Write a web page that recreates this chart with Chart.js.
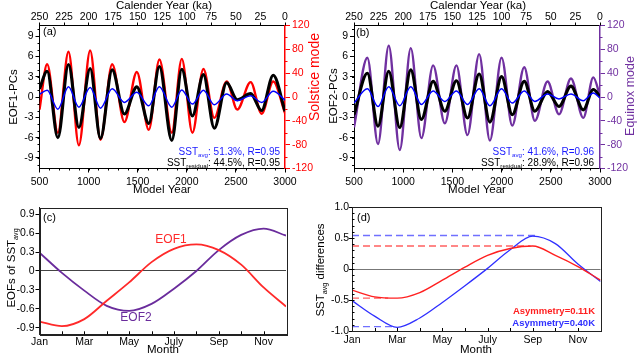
<!DOCTYPE html>
<html><head><meta charset="utf-8">
<script src="https://cdn.jsdelivr.net/npm/chart.js@4.4.1/dist/chart.umd.min.js"></script>
<style>
html,body{margin:0;padding:0;background:#fff;}
#wrap{position:relative;width:638px;height:356px;overflow:hidden;background:#fff;}
canvas{position:absolute;}
</style></head><body>
<div id="wrap">
<canvas id="ca" width="324" height="200" style="left:0;top:0"></canvas>
<canvas id="cb" width="314" height="200" style="left:324px;top:0"></canvas>
<canvas id="cc" width="300" height="156" style="left:0;top:200px"></canvas>
<canvas id="cd" width="338" height="156" style="left:300px;top:200px"></canvas>
</div>
<script>
// ---------- data ----------
// panel (a): model years of turning points, and the values there
const aYears     = [500, 578, 687, 795, 901, 1016, 1121, 1240, 1365, 1491, 1613, 1721, 1847, 1949, 2057, 2169, 2280, 2406, 2514, 2650, 2762, 2880, 3000];
const aSolstice  = [-21, 55, -60, 76, -81, 78, -72, 55, -42, 42, -55, 63, -60, 64, -60, 47, -35, 26, -21, 25, -28, 26, -27];
const aResidual  = [1.2, 3.8, -6.0, 4.8, -4.5, 4.2, -6.1, 4.0, -2.5, 1.5, -3.9, 4.5, -6.4, 4.1, -2.8, 3.3, -4.6, 2.1, -0.4, 0.5, -2.0, 3.2, -2.1];
const aAvg       = [0.4, 1.0, -1.8, 1.5, -1.5, 1.4, -1.65, 1.2, -0.8, 0.7, -1.3, 1.5, -1.5, 1.05, -1.05, 1.0, -1.15, 0.45, -0.55, 0.2, -0.8, 0.85, -0.45];
// panel (b)
const bYears     = [500, 636, 744, 853, 965, 1077, 1185, 1304, 1423, 1541, 1653, 1772, 1881, 2000, 2108, 2230, 2338, 2467, 2583, 2705, 2830, 2932, 3000];
const bEquinox   = [-51, 66, -79, 86, -89, 82, -69, 53, -44, 53, -64, 72, -73, 66, -48, 50, -40, 26, -29, 31, -35, 33, 2];
const bResidual  = [-2.6, 3.5, -4.3, 3.8, -4.5, 4.0, -3.3, 2.3, -2.1, 2.4, -3.1, 3.4, -3.7, 3.0, -2.6, 2.3, -2.1, 0.8, -1.4, 1.6, -1.9, 1.1, 0.1];
const bAvg       = [-0.9, 1.2, -1.4, 1.5, -1.3, 1.5, -1.1, 0.9, -0.65, 0.9, -1.1, 1.2, -1.3, 1.2, -0.9, 0.9, -0.65, 0.45, -0.3, 0.45, -0.55, 0.6, -0.15];
// panels (c) and (d): monthly values
const months = ['Jan','Feb','Mar','Apr','May','Jun','July','Aug','Sep','Oct','Nov','Dec'];
const cEOF1 = [-0.80, -0.87, -0.76, -0.47, -0.18, 0.14, 0.35, 0.42, 0.33, 0.10, -0.26, -0.56];
const cEOF2 = [0.29, -0.03, -0.31, -0.55, -0.63, -0.52, -0.28, 0.00, 0.33, 0.57, 0.67, 0.56];
const dRed  = [-0.34, -0.45, -0.47, -0.38, -0.18, 0.03, 0.22, 0.33, 0.37, 0.22, 0.04, -0.18];
const dBlue = [-0.51, -0.76, -0.94, -0.79, -0.54, -0.27, 0.01, 0.31, 0.53, 0.41, 0.08, -0.20];
const dRedLevels  = [0.37, -0.47];
const dRedEnds    = [8.9, 2.6];
const dBlueLevels = [0.54, -0.93];
const dBlueEnds   = [9.1, 2.9];
// tick values
const pcTicks   = [-9, -6, -3, 0, 3, 6, 9];
const modeTicks = [-120, -80, -40, 0, 40, 80, 120];
const cTicks    = [-0.9, -0.6, -0.3, 0, 0.3, 0.6, 0.9];
const dTicks    = [-1, -0.5, 0, 0.5, 1];

// ---------- helpers ----------
const FONT = '"Liberation Sans", Arial, Helvetica, sans-serif';
Chart.defaults.font.family = FONT;
const TICKFONT = {size: 10.5};
const RED = '#ff0000', PURPLE = '#7030a0', BLUE = '#0000ff';

function drawParts(ctx, it) {
  const size = it.size || 11.5;
  const w = it.bold ? 'bold ' : '';
  const parts = it.parts.map(p => typeof p === 'string' ? {t: p} : Object.assign({}, p));
  let total = 0;
  parts.forEach(p => { p.s = p.sub ? size * 0.62 : size; ctx.font = w + p.s + 'px ' + FONT; p.w = ctx.measureText(p.t).width; total += p.w; });
  ctx.save();
  ctx.translate(it.x, it.y);
  if (it.rot) ctx.rotate(it.rot);
  let x0 = it.align === 'right' ? -total : it.align === 'left' ? 0 : -total / 2;
  ctx.fillStyle = it.color || '#000';
  ctx.textBaseline = 'middle';
  ctx.textAlign = 'left';
  parts.forEach(p => { ctx.font = w + p.s + 'px ' + FONT; ctx.fillText(p.t, x0, p.sub ? size * 0.32 : 0); x0 += p.w; });
  ctx.restore();
}

const decor = {
  id: 'decor',
  afterDraw(chart, args, opts) {
    const ctx = chart.ctx, ca = chart.chartArea;
    ctx.save();
    if (opts.box) {
      ctx.strokeStyle = '#222'; ctx.lineWidth = 1;
      ctx.strokeRect(Math.round(ca.left) + 0.5, Math.round(ca.top) + 0.5, Math.round(ca.right - ca.left), Math.round(ca.bottom - ca.top));
    }
    (opts.minor || []).forEach(m => {
      const sc = chart.scales[m.scale];
      ctx.strokeStyle = m.color || '#000'; ctx.lineWidth = 1;
      ctx.beginPath();
      for (let v = m.from; v <= m.to + 1e-9; v += m.step) {
        const p = sc.getPixelForValue(v);
        const d = m.dir === 'in' ? -1 : 1;
        if (m.edge === 'bottom') { const px = Math.round(p) + 0.5; ctx.moveTo(px, ca.bottom); ctx.lineTo(px, ca.bottom + d * m.len); }
        if (m.edge === 'top') { const px = Math.round(p) + 0.5; ctx.moveTo(px, ca.top); ctx.lineTo(px, ca.top - d * m.len); }
        if (m.edge === 'left') { const py = Math.round(p) + 0.5; ctx.moveTo(ca.left, py); ctx.lineTo(ca.left - d * m.len, py); }
        if (m.edge === 'right') { const py = Math.round(p) + 0.5; ctx.moveTo(ca.right, py); ctx.lineTo(ca.right + d * m.len, py); }
      }
      ctx.stroke();
    });
    ctx.restore();
    (opts.texts || []).forEach(t => drawParts(ctx, t));
  }
};

function line(xs, ys, color, width, yAxisID, extra) {
  return Object.assign({
    data: xs.map((x, i) => ({x: x, y: ys[i]})),
    borderColor: color, borderWidth: width, pointRadius: 0, fill: false,
    cubicInterpolationMode: 'monotone', yAxisID: yAxisID || 'y', xAxisID: 'x'
  }, extra || {});
}
function fixedTicks(vals) { return s => { s.ticks = vals.map(v => ({value: v})); }; }
const noGrid = (len, color) => ({drawOnChartArea: false, drawTicks: true, tickLength: len, tickColor: color || '#000', tickWidth: 1});

function pcChart(id, years, mode, resid, avg, modeColor, opt) {
  return new Chart(document.getElementById(id), {
    type: 'line',
    data: {datasets: [
      line(years, avg, BLUE, 1.5),
      line(years, resid, '#000', 3.1),
      line(years, mode, modeColor, 2.4, 'y2')
    ]},
    options: {
      responsive: false, animation: false, devicePixelRatio: 1,
      layout: {padding: 0},
      plugins: {legend: {display: false}, tooltip: {enabled: false}, decor: opt.decor},
      scales: {
        x: {type: 'linear', position: 'bottom', min: 500, max: 3000,
            ticks: {stepSize: 500, callback: v => String(v), font: TICKFONT, color: '#000', padding: 3, maxRotation: 0, autoSkip: false},
            grid: noGrid(4), border: {color: '#000', width: 1}, afterFit: s => { s.height = 31.5; }},
        x2: {type: 'linear', position: 'top', min: 0, max: 250, reverse: true,
            ticks: {stepSize: 25, callback: v => String(v), font: {size: 10.5, lineHeight: 1}, color: '#000', padding: 0, maxRotation: 0, autoSkip: false},
            grid: noGrid(3), border: {color: '#000', width: 1}, afterFit: s => { s.height = 25.5; }},
        y: {type: 'linear', position: 'left', min: -10.55, max: 10.55, afterBuildTicks: fixedTicks(pcTicks),
            ticks: {font: TICKFONT, color: '#000', padding: 2, callback: v => String(v)},
            grid: noGrid(4), border: {color: '#000', width: 1}, afterFit: s => { s.width = opt.left; }},
        y2: {type: 'linear', position: 'right', min: -120, max: 120, afterBuildTicks: fixedTicks(modeTicks),
            ticks: {font: TICKFONT, color: modeColor, padding: 2, callback: v => String(v)},
            grid: noGrid(5, modeColor), border: {color: modeColor, width: 1.5}, afterFit: s => { s.width = opt.right; }}
      }
    },
    plugins: [decor]
  });
}

const HALF = -Math.PI / 2;
pcChart('ca', aYears, aSolstice, aResidual, aAvg, RED, {left: 39.5, right: 39, decor: {
  minor: [
    {scale: 'x', edge: 'bottom', from: 600, to: 2900, step: 100, len: 2},
    {scale: 'y', edge: 'left', from: -10, to: 10, step: 1, len: 2},
    {scale: 'y2', edge: 'right', from: -100, to: 100, step: 40, len: 2.5, color: RED}
  ],
  texts: [
    {parts: ['Calender Year (ka)'], x: 164, y: 5.5},
    {parts: ['EOF1-PCs'], x: 14, y: 97, rot: HALF},
    {parts: ['Solstice mode'], x: 315, y: 77, rot: HALF, color: RED, size: 14},
    {parts: ['Model Year'], x: 162, y: 189.5},
    {parts: ['(a)'], x: 43, y: 32, align: 'left', size: 11},
    {parts: ['SST', {t: 'avg', sub: true}, ': 51.3%, R=0.95'], x: 280, y: 152.5, align: 'right', size: 10, color: '#1a1aff'},
    {parts: ['SST', {t: 'residual', sub: true}, ': 44.5%, R=0.95'], x: 280, y: 163.5, align: 'right', size: 10}
  ]
}});

pcChart('cb', bYears, bEquinox, bResidual, bAvg, PURPLE, {left: 30, right: 38, decor: {
  minor: [
    {scale: 'x', edge: 'bottom', from: 600, to: 2900, step: 100, len: 2},
    {scale: 'y', edge: 'left', from: -10, to: 10, step: 1, len: 2},
    {scale: 'y2', edge: 'right', from: -100, to: 100, step: 40, len: 2.5, color: PURPLE}
  ],
  texts: [
    {parts: ['Calendar Year (ka)'], x: 154, y: 5.5},
    {parts: ['EOF2-PCs'], x: 10, y: 96, rot: HALF},
    {parts: ['Equinox mode'], x: 307, y: 96, rot: HALF, color: PURPLE, size: 12.5},
    {parts: ['Model Year'], x: 153, y: 189.5},
    {parts: ['(b)'], x: 32, y: 33, align: 'left', size: 11},
    {parts: ['SST', {t: 'avg', sub: true}, ': 41.6%, R=0.96'], x: 270, y: 152.5, align: 'right', size: 10, color: '#1a1aff'},
    {parts: ['SST', {t: 'residual', sub: true}, ': 28.9%, R=0.96'], x: 270, y: 163.5, align: 'right', size: 10}
  ]
}});

const monthX = months.map((m, i) => i + 1);
function monthScale(pad, height) {
  return {type: 'linear', position: 'bottom', min: 1, max: 12,
    ticks: {stepSize: 1, autoSkip: false, maxRotation: 0, font: TICKFONT, color: '#000', padding: pad,
            callback: v => (Number.isInteger(v) && v % 2 === 1) ? months[v - 1] : ''},
    grid: {drawOnChartArea: false, drawTicks: false}, border: {color: '#222', width: 1},
    afterFit: s => { s.height = height; }};
}
function zeroGrid(color, len) {
  return {drawOnChartArea: true, drawTicks: true, tickLength: len, tickColor: '#000',
          color: c => (c.tick && c.tick.value === 0) ? color : 'rgba(0,0,0,0)', lineWidth: 1};
}

new Chart(document.getElementById('cc'), {
  type: 'line',
  data: {datasets: [
    line(monthX, cEOF1, '#ff2a2a', 1.8),
    line(monthX, cEOF2, '#6a2c9c', 1.8)
  ]},
  options: {
    responsive: false, animation: false, devicePixelRatio: 1,
    layout: {padding: {top: 7.7, right: 14, left: 0, bottom: 0}},
    plugins: {legend: {display: false}, tooltip: {enabled: false}, decor: {
      box: true,
      minor: [{scale: 'x', edge: 'bottom', from: 2, to: 11, step: 1, len: 3, dir: 'in'}],
      texts: [
        {parts: ['EOFs of SST', {t: 'avg', sub: true}], x: 12, y: 68, rot: HALF},
        {parts: ['(c)'], x: 43, y: 17.7, align: 'left', size: 11},
        {parts: ['EOF1'], x: 171, y: 40, color: '#ff2a2a', size: 12},
        {parts: ['EOF2'], x: 136, y: 117.7, color: '#6a2c9c', size: 12},
        {parts: ['Month'], x: 163, y: 150}
      ]}},
    scales: {
      x: monthScale(1.5, 21.7),
      y: {type: 'linear', position: 'left', min: -1.0, max: 1.0, afterBuildTicks: fixedTicks(cTicks),
          ticks: {font: TICKFONT, color: '#000', padding: 1, callback: v => v === 0 ? '0' : v.toFixed(1)},
          grid: zeroGrid('#444', 4), border: {color: '#222', width: 1}, afterFit: s => { s.width = 39.5; }}
    }
  },
  plugins: [decor]
});

function dash(level, end, color) {
  return line([1, end], [level, level], color, 1.4, 'y', {borderDash: [7, 4], cubicInterpolationMode: 'default', tension: 0});
}
new Chart(document.getElementById('cd'), {
  type: 'line',
  data: {datasets: [
    line(monthX, dRed, '#ff2020', 1.4),
    line(monthX, dBlue, '#3030ff', 1.3),
    dash(dRedLevels[0], dRedEnds[0], '#ff6060'),
    dash(dRedLevels[1], dRedEnds[1], '#ff6060'),
    dash(dBlueLevels[0], dBlueEnds[0], '#7070ff'),
    dash(dBlueLevels[1], dBlueEnds[1], '#7070ff')
  ]},
  options: {
    responsive: false, animation: false, devicePixelRatio: 1,
    layout: {padding: {top: 7, right: 37.5, left: 0, bottom: 0}},
    plugins: {legend: {display: false}, tooltip: {enabled: false}, decor: {
      box: true,
      minor: [
        {scale: 'x', edge: 'bottom', from: 2, to: 11, step: 1, len: 3, dir: 'in'},
        {scale: 'y', edge: 'left', from: -0.9, to: 0.9, step: 0.1, len: 2.5, dir: 'in'}
      ],
      texts: [
        {parts: ['SST', {t: 'avg', sub: true}, ' differences'], x: 21, y: 70, rot: HALF},
        {parts: ['(d)'], x: 57, y: 17.7, align: 'left', size: 11},
        {parts: ['Asymmetry=0.11K'], x: 295, y: 111.7, align: 'right', size: 9.5, bold: true, color: '#ff2020'},
        {parts: ['Asymmetry=0.40K'], x: 295, y: 123.3, align: 'right', size: 9.5, bold: true, color: '#3030ff'},
        {parts: ['Month'], x: 176, y: 150}
      ]}},
    scales: {
      x: monthScale(3, 25),
      y: {type: 'linear', position: 'left', min: -1.0, max: 1.0, afterBuildTicks: fixedTicks(dTicks),
          ticks: {font: TICKFONT, color: '#000', padding: 0, callback: v => v === 0 ? '0' : v.toFixed(1)},
          grid: zeroGrid('#777', 3), border: {color: '#222', width: 1}, afterFit: s => { s.width = 52; }}
    }
  },
  plugins: [decor]
});
</script>
</body></html>
